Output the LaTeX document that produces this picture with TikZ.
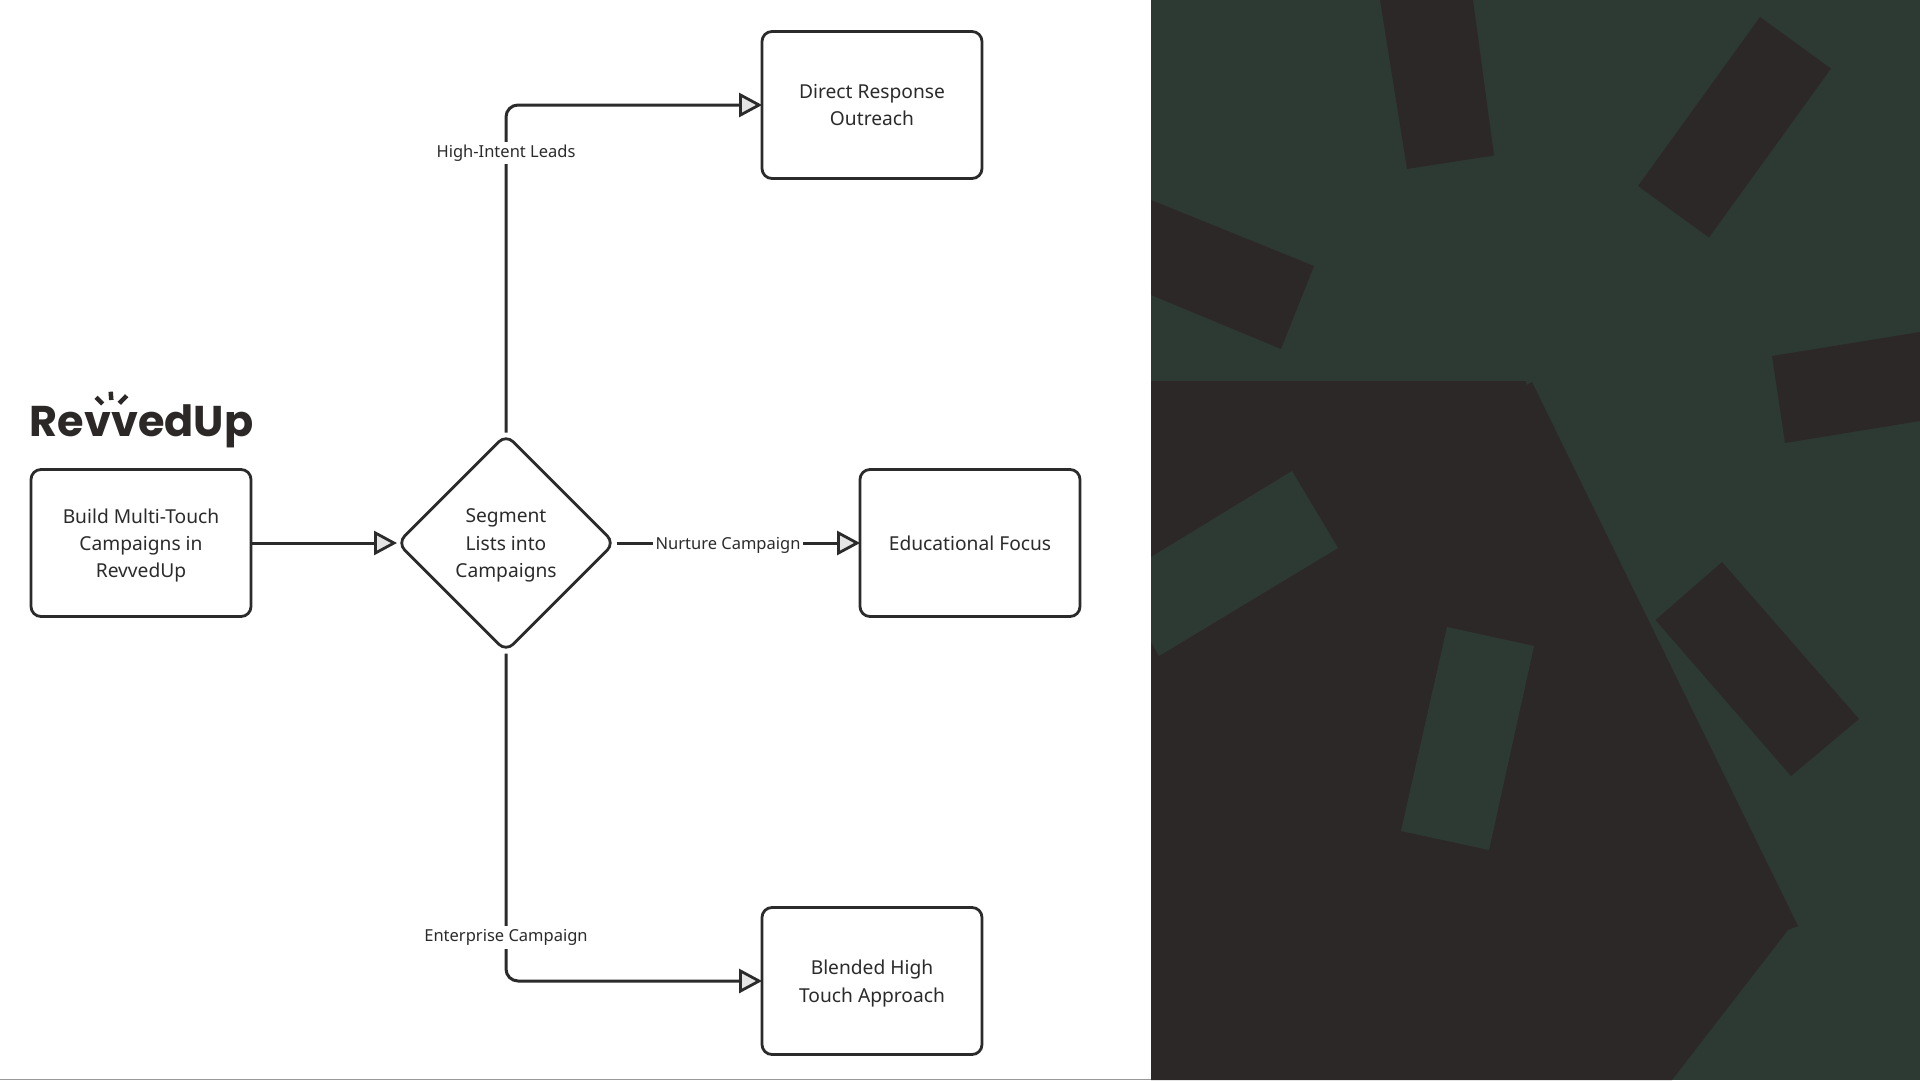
\documentclass[tikz,border=0pt]{standalone}
\usepackage{fontspec}
\setmainfont{Noto Sans}
\newfontfamily\logofont{Poppins}
\usetikzlibrary{arrows.meta}
\usetikzlibrary{shapes.geometric}
\usetikzlibrary{positioning}
\definecolor{panelgreen}{HTML}{2D3A33}
\definecolor{paneldark}{HTML}{2C2827}
\definecolor{inkline}{HTML}{2B2B2B}
\newcommand{\droptext}[1]{\raisebox{0pt}[\dimexpr\height+4.8pt\relax]{#1}}
\tikzset{
	flowbox/.style={draw=inkline,line width=2.8pt,rounded corners=10pt,minimum width=220pt,minimum height=147pt,
		align=center,text=inkline,font=\fontsize{19.2}{27.4}\selectfont},
	flowdiamond/.style={diamond,draw=inkline,line width=2.8pt,rounded corners=10pt,minimum width=218pt,minimum height=218pt,
		align=center,text=inkline,font=\fontsize{19.2}{27.4}\selectfont,inner sep=0pt,outer sep=1.5pt},
	flowline/.style={draw=inkline,line width=3pt,rounded corners=12pt,shorten >=-1.5pt,-{Triangle[open,fill=white!90!black,length=23pt,width=24pt,line width=2.8pt]}},
	edgetext/.style={fill=white,inner sep=3pt,text=inkline,font=\fontsize{16.5}{20}\selectfont},
	darkbar/.style={fill=paneldark},
	greenbar/.style={fill=panelgreen},
	sparkline/.style={draw=paneldark,line width=4.5pt}
}
\begin{document}
\begin{tikzpicture}[x=1pt,y=-1pt]
	\useasboundingbox (0,0) rectangle (1920,1080);
	\fill[white] (0,0) rectangle (1151,1080);
	\fill[black!40] (0,1078.8) rectangle (1151,1080);
	% right panel
	\fill[panelgreen] (1151,0) rectangle (1920,1080);
	\fill[darkbar] (1151,381) -- (1526,381) -- (1526,385) -- (1532,382) -- (1798,926) -- (1788,930) -- (1672,1080) -- (1151,1080) -- cycle;
	\fill[darkbar] (1380,0) -- (1473,0) -- (1494,155.5) -- (1407,169) -- cycle;
	\fill[darkbar] (1760,17) -- (1831,68.6) -- (1709,237.5) -- (1638,186) -- cycle;
	\fill[darkbar] (1151,200) -- (1314,266) -- (1281,349) -- (1151,295) -- cycle;
	\fill[darkbar] (1772,356) -- (1920,332) -- (1920,421) -- (1785,443) -- cycle;
	\fill[darkbar] (1722,562) -- (1859,719) -- (1791,776) -- (1655.5,620) -- cycle;
	\fill[greenbar] (1292,471) -- (1338,548) -- (1159,656) -- (1151,642) -- (1151,557) -- cycle;
	\fill[greenbar] (1447,627) -- (1534,646) -- (1489,850) -- (1401,831) -- cycle;
	% logo
	\node[anchor=base,inner sep=0pt] (logo) at (141.5,436.5) {\logofont\bfseries\fontsize{43}{43}\selectfont\textcolor{paneldark}{RevvedUp}};
	\draw[sparkline] (96,397.3) -- (102.7,404);
	\draw[sparkline] (110.7,391.7) -- (111.3,400);
	\draw[sparkline] (126.7,395.7) -- (119.3,403.3);
	% flow
	\node[flowbox] (build) at (141,543) {\droptext{Build Multi-Touch}\\Campaigns in\\RevvedUp};
	\node[flowdiamond] (segment) at (506,543) {\droptext{Segment}\\Lists into\\Campaigns};
	\node[flowbox] (direct) at (872,105) {Direct Response\\Outreach};
	\node[flowbox] (educate) at (970,543) {Educational Focus};
	\node[flowbox] (blended) at (872,981) {\droptext{Blended High}\\Touch Approach};
	\draw[flowline] (build) -- (segment);
	\draw[flowline] (segment.north) |- (direct.west);
	\draw[flowline] (segment.south) |- (blended.west);
	\draw[flowline] (segment) -- (educate);
	\node[edgetext] (highlabel) at (506,153) {High-Intent Leads};
	\node[edgetext] (nurturelabel) at (728,545) {Nurture Campaign};
	\node[edgetext] (enterlabel) at (506,937.5) {Enterprise Campaign};
\end{tikzpicture}
\end{document}
